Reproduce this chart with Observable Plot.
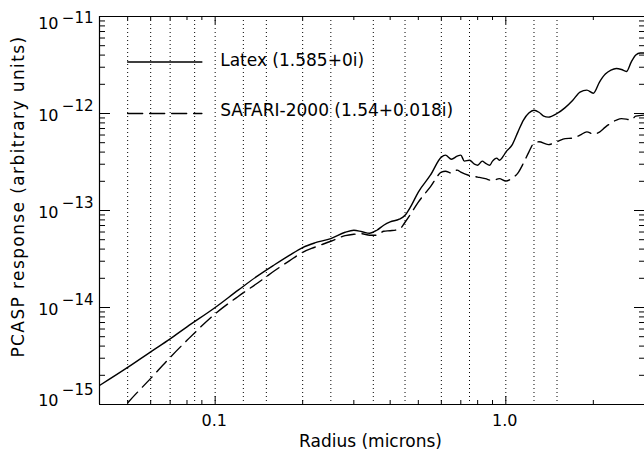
<!DOCTYPE html>
<html><head><meta charset="utf-8">
<script src="https://cdn.jsdelivr.net/npm/d3@7"></script>
<script src="https://cdn.jsdelivr.net/npm/@observablehq/plot@0.6"></script>
<style>
body{margin:0;background:#fff}
</style>
</head><body><div id="chart"></div>
<script>
// Latex (1.585+0i)
const latexRadius = [0.04,0.05,0.06,0.07,0.08,0.1,0.12,0.14,0.16,0.18,0.2,0.22,0.25,0.28,0.3,0.32,0.34,0.36,0.38,0.4,0.43,0.45,0.47,0.5,0.55,0.6,0.62,0.65,0.68,0.7,0.72,0.75,0.78,0.8,0.83,0.85,0.88,0.9,0.93,0.95,0.98,1.0,1.05,1.1,1.15,1.2,1.25,1.3,1.35,1.4,1.5,1.6,1.7,1.8,1.9,2.0,2.1,2.2,2.3,2.4,2.5,2.6,2.7,2.8,2.9,3.0];
const latexResponse = [1.57e-15,2.41e-15,3.49e-15,4.75e-15,6.32e-15,1.0e-14,1.51e-14,2.12e-14,2.76e-14,3.45e-14,4.15e-14,4.63e-14,5.14e-14,5.97e-14,6.26e-14,6.04e-14,5.83e-14,6.26e-14,7.05e-14,7.63e-14,8.13e-14,8.94e-14,1.09e-13,1.55e-13,2.31e-13,3.55e-13,3.72e-13,3.38e-13,3.63e-13,3.72e-13,3.23e-13,3.30e-13,3.00e-13,2.93e-13,3.23e-13,3.08e-13,2.93e-13,3.23e-13,3.47e-13,3.30e-13,3.63e-13,4.00e-13,4.72e-13,6.43e-13,8.55e-13,1.01e-12,1.08e-12,1.03e-12,9.40e-13,9.18e-13,1.0e-12,1.15e-12,1.37e-12,1.66e-12,1.74e-12,1.62e-12,2.11e-12,2.55e-12,2.80e-12,2.91e-12,2.84e-12,2.71e-12,3.39e-12,4.01e-12,4.20e-12,4.20e-12];
// SAFARI-2000 (1.54+0.018i)
const safariRadius = [0.045,0.05,0.06,0.07,0.08,0.1,0.12,0.14,0.16,0.18,0.2,0.22,0.25,0.28,0.3,0.32,0.34,0.36,0.38,0.4,0.43,0.45,0.47,0.5,0.55,0.6,0.62,0.65,0.68,0.7,0.75,0.8,0.85,0.9,0.95,1.0,1.05,1.1,1.15,1.2,1.25,1.3,1.4,1.5,1.6,1.7,1.8,1.9,2.0,2.1,2.2,2.4,2.5,2.6,2.7,2.8,3.0];
const safariResponse = [7.19e-16,1.04e-15,1.86e-15,3.06e-15,4.59e-15,8.61e-15,1.30e-14,1.79e-14,2.39e-14,3.03e-14,3.71e-14,4.18e-14,4.82e-14,5.50e-14,5.69e-14,5.76e-14,5.56e-14,5.56e-14,6.11e-14,6.19e-14,6.41e-14,7.57e-14,9.16e-14,1.22e-13,1.75e-13,2.48e-13,2.54e-13,2.43e-13,2.61e-13,2.48e-13,2.29e-13,2.21e-13,2.13e-13,2.03e-13,2.13e-13,2.01e-13,2.15e-13,2.43e-13,3.08e-13,4.00e-13,4.95e-13,5.11e-13,4.78e-13,5.11e-13,5.51e-13,5.57e-13,5.98e-13,6.47e-13,6.13e-13,6.43e-13,7.24e-13,8.55e-13,8.86e-13,8.75e-13,8.55e-13,9.40e-13,9.63e-13];
// PCASP channel boundaries (radius, microns)
const channelEdges = [0.05,0.06,0.07,0.085,0.1,0.125,0.15,0.2,0.25,0.35,0.45,0.6,0.75,1.0,1.25,1.5];
// axis ticks
const xMajorTicks = [0.1, 1.0];
const xMajorLabels = ["0.1", "1.0"];
const xMinorTicks = [0.05,0.06,0.07,0.08,0.09,0.2,0.3,0.4,0.5,0.6,0.7,0.8,0.9,2];
const yMajorTicks = [1e-15,1e-14,1e-13,1e-12,1e-11];
const yExponents = ["−15","−14","−13","−12","−11"];
const yMinorTicks = [-15,-14,-13,-12].flatMap(k => [2,3,4,5,6,7,8,9].map(m => m * Math.pow(10, k)));
// legend
const legendLabels = ["Latex (1.585+0i)", "SAFARI-2000 (1.54+0.018i)"];
const legendAt = [3.4e-12, 1e-12];
const legendSpan = [0.05, 0.09];
const legendTextX = 0.1;

const latexData = latexRadius.map((r, i) => ({r, v: latexResponse[i]}));
const safariData = safariRadius.map((r, i) => ({r, v: safariResponse[i]}));
const yLab = yMajorTicks.map((v, i) => ({v, e: yExponents[i]}));
const yTop = yLab.filter(d => d.v === 1e-11);
const yBot = yLab.filter(d => d.v === 1e-15);
const yMid = yLab.filter(d => d.v !== 1e-11 && d.v !== 1e-15);
const xLab = xMajorTicks.map((r, i) => ({r, t: xMajorLabels[i]}));
const legendSolid = legendSpan.map(r => ({r, v: legendAt[0]}));
const legendDash = legendSpan.map(r => ({r, v: legendAt[1]}));

const H = 388, W = 545;
const font = "DejaVu Sans";
const T = {lineAnchor: "middle"};

const chart = Plot.plot({
  width: 644, height: 451,
  marginLeft: 99, marginRight: 0, marginTop: 16, marginBottom: 47,
  x: {type: "log", domain: [0.04, 3], axis: null},
  y: {type: "log", domain: [1e-15, 1e-11], axis: null},
  style: {fontFamily: font, background: "white", color: "black"},
  marks: [
    Plot.ruleX(channelEdges, {stroke: "#000", strokeWidth: 1, strokeDasharray: "1,3"}),
    // frame
    Plot.ruleX([0.04], {stroke: "#000", strokeWidth: 1.2}),
    Plot.ruleY([1e-15], {stroke: "#000", strokeWidth: 1.2}),
    Plot.ruleY([1e-11], {stroke: "#000", strokeWidth: 1.2}),
    // x ticks bottom/top
    Plot.ruleX(xMajorTicks, {insetTop: H - 8, stroke: "#000"}),
    Plot.ruleX(xMajorTicks, {insetBottom: H - 8, stroke: "#000"}),
    Plot.ruleX(xMinorTicks, {insetTop: H - 4, stroke: "#000"}),
    Plot.ruleX(xMinorTicks, {insetBottom: H - 4, stroke: "#000"}),
    // y ticks left/right
    Plot.ruleY(yMajorTicks, {insetRight: W - 11, stroke: "#000"}),
    Plot.ruleY(yMajorTicks, {insetLeft: W - 10, stroke: "#000"}),
    Plot.ruleY(yMinorTicks, {insetRight: W - 6, stroke: "#000"}),
    Plot.ruleY(yMinorTicks, {insetLeft: W - 5, stroke: "#000"}),
    // curves
    Plot.line(latexData, {x: "r", y: "v", stroke: "#000", strokeWidth: 1.4, curve: "monotone-x", clip: true}),
    Plot.line(safariData, {x: "r", y: "v", stroke: "#000", strokeWidth: 1.4, strokeDasharray: "14,7", curve: "monotone-x", clip: true}),
    // legend
    Plot.line(legendSolid, {x: "r", y: "v", stroke: "#000", strokeWidth: 1.4}),
    Plot.line(legendDash, {x: "r", y: "v", stroke: "#000", strokeWidth: 1.4, strokeDasharray: "15,7"}),
    Plot.text([legendLabels[0]], {...T, x: () => legendTextX, y: () => legendAt[0], dx: 5, dy: -1, textAnchor: "start", fontSize: 17}),
    Plot.text([legendLabels[1]], {...T, x: () => legendTextX, y: () => legendAt[1], dx: 5, dy: -3, textAnchor: "start", fontSize: 17}),
    // x tick labels
    Plot.text(xLab, {...T, x: "r", frameAnchor: "bottom", text: "t", dy: 16, dx: -1, textAnchor: "middle", fontSize: 16}),
    // y tick labels
    Plot.text(yMid, {...T, y: "v", frameAnchor: "left", text: () => "10", textAnchor: "end", dx: -41, dy: 2.7, fontSize: 16}),
    Plot.text(yMid, {...T, y: "v", frameAnchor: "left", text: "e", textAnchor: "end", dx: -6, dy: -7.3, fontSize: 15}),
    Plot.text(yTop, {...T, y: "v", frameAnchor: "left", text: () => "10", textAnchor: "end", dx: -41, dy: 7.7, fontSize: 16}),
    Plot.text(yTop, {...T, y: "v", frameAnchor: "left", text: "e", textAnchor: "end", dx: -6, dy: 1.7, fontSize: 15}),
    Plot.text(yBot, {...T, y: "v", frameAnchor: "left", text: () => "10", textAnchor: "end", dx: -41, dy: -3.3, fontSize: 16}),
    Plot.text(yBot, {...T, y: "v", frameAnchor: "left", text: "e", textAnchor: "end", dx: -6, dy: -14.3, fontSize: 15}),
    // axis titles
    Plot.text(["Radius (microns)"], {...T, frameAnchor: "bottom", textAnchor: "middle", dy: 36.6, dx: -1.5, fontSize: 17}),
    Plot.text(["PCASP response (arbitrary units)"], {...T, frameAnchor: "left", textAnchor: "middle", rotate: -90, dx: -80.7, dy: -14, fontSize: 17})
  ]
});
d3.select(chart).selectAll("text")
  .filter(function() { return this.textContent === "PCASP response (arbitrary units)"; })
  .style("letter-spacing", "1.4px");
document.getElementById("chart").appendChild(chart);
</script>
</body></html>
